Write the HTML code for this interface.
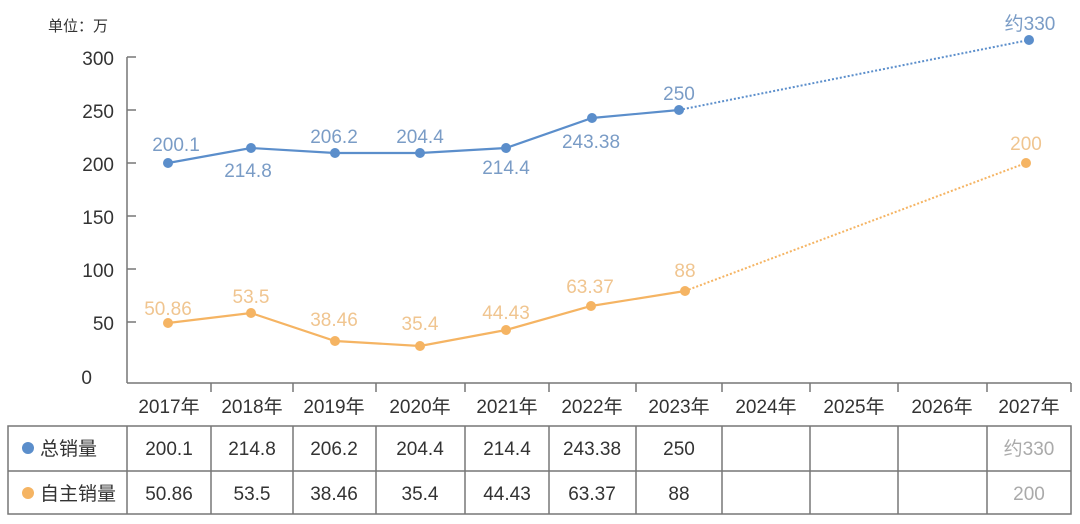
<!DOCTYPE html>
<html><head><meta charset="utf-8"><style>
html,body{margin:0;padding:0;background:#fff;}
svg{display:block;}
text{font-family:"Liberation Sans","Noto Sans CJK SC",sans-serif;}
</style></head><body>
<svg width="1080" height="524" viewBox="0 0 1080 524" xmlns="http://www.w3.org/2000/svg">
<rect width="1080" height="524" fill="#fff"/>
<text x="48" y="31" font-size="15" fill="#333">单位：万</text>
<!-- y axis -->
<g stroke="#777" stroke-width="1.5" fill="none">
<line x1="127" y1="57" x2="127" y2="383"/>
<line x1="127" y1="57" x2="136" y2="57"/>
<line x1="127" y1="110" x2="136" y2="110"/>
<line x1="127" y1="163" x2="136" y2="163"/>
<line x1="127" y1="216" x2="136" y2="216"/>
<line x1="127" y1="269" x2="136" y2="269"/>
<line x1="127" y1="322" x2="136" y2="322"/>
<line x1="127" y1="383" x2="1071" y2="383"/>
<line x1="211" y1="383" x2="211" y2="392"/>
<line x1="293" y1="383" x2="293" y2="392"/>
<line x1="376" y1="383" x2="376" y2="392"/>
<line x1="465" y1="383" x2="465" y2="392"/>
<line x1="549" y1="383" x2="549" y2="392"/>
<line x1="636" y1="383" x2="636" y2="392"/>
<line x1="722" y1="383" x2="722" y2="392"/>
<line x1="810" y1="383" x2="810" y2="392"/>
<line x1="898" y1="383" x2="898" y2="392"/>
<line x1="987" y1="383" x2="987" y2="392"/>
<line x1="1071" y1="383" x2="1071" y2="392"/>
</g>
<g font-size="19" fill="#333" text-anchor="end">
<text x="114" y="65">300</text>
<text x="114" y="118">250</text>
<text x="114" y="171">200</text>
<text x="114" y="224">150</text>
<text x="114" y="277">100</text>
<text x="114" y="330">50</text>
<text x="92" y="384">0</text>
</g>
<g font-size="19" fill="#333" text-anchor="middle">
<text x="169" y="413">2017年</text>
<text x="252" y="413">2018年</text>
<text x="334" y="413">2019年</text>
<text x="420" y="413">2020年</text>
<text x="507" y="413">2021年</text>
<text x="592" y="413">2022年</text>
<text x="679" y="413">2023年</text>
<text x="766" y="413">2024年</text>
<text x="854" y="413">2025年</text>
<text x="942" y="413">2026年</text>
<text x="1029" y="413">2027年</text>
</g>
<!-- blue series -->
<polyline points="168,163 251,148 335,153 420,153 506,148 592,118 679,110" fill="none" stroke="#5b8ecb" stroke-width="2.2"/>
<line x1="679" y1="110" x2="1029" y2="40" stroke="#5b8ecb" stroke-width="2" stroke-dasharray="2,2"/>
<g fill="#5b8ecb">
<circle cx="168" cy="163" r="5"/><circle cx="251" cy="148" r="5"/><circle cx="335" cy="153" r="5"/><circle cx="420" cy="153" r="5"/><circle cx="506" cy="148" r="5"/><circle cx="592" cy="118" r="5"/><circle cx="679" cy="110" r="5"/><circle cx="1029" cy="40" r="5"/>
</g>
<g font-size="19" fill="#7a9cc6" text-anchor="middle">
<text x="176" y="151">200.1</text>
<text x="248" y="177">214.8</text>
<text x="334" y="143">206.2</text>
<text x="420" y="143">204.4</text>
<text x="506" y="174">214.4</text>
<text x="591" y="148">243.38</text>
<text x="679" y="100">250</text>
<text x="1030" y="30">约330</text>
</g>
<!-- orange series -->
<polyline points="168,323 251,313 335,341 420,346 506,330 591,306 685,291" fill="none" stroke="#f5b463" stroke-width="2.2"/>
<line x1="685" y1="291" x2="1026" y2="163" stroke="#f5b463" stroke-width="2" stroke-dasharray="2,2"/>
<g fill="#f5b463">
<circle cx="168" cy="323" r="5"/><circle cx="251" cy="313" r="5"/><circle cx="335" cy="341" r="5"/><circle cx="420" cy="346" r="5"/><circle cx="506" cy="330" r="5"/><circle cx="591" cy="306" r="5"/><circle cx="685" cy="291" r="5"/><circle cx="1026" cy="163" r="5"/>
</g>
<g font-size="19" fill="#f0c590" text-anchor="middle">
<text x="168" y="315">50.86</text>
<text x="251" y="303">53.5</text>
<text x="334" y="326">38.46</text>
<text x="420" y="330">35.4</text>
<text x="506" y="319">44.43</text>
<text x="590" y="293">63.37</text>
<text x="685" y="277">88</text>
<text x="1026" y="150">200</text>
</g>
<!-- table -->
<g stroke="#777" stroke-width="1.5" fill="none">
<rect x="8" y="426" width="1063" height="88"/>
<line x1="8" y1="471" x2="1071" y2="471"/>
<line x1="127" y1="426" x2="127" y2="514"/>
<line x1="211" y1="426" x2="211" y2="514"/>
<line x1="293" y1="426" x2="293" y2="514"/>
<line x1="376" y1="426" x2="376" y2="514"/>
<line x1="465" y1="426" x2="465" y2="514"/>
<line x1="549" y1="426" x2="549" y2="514"/>
<line x1="636" y1="426" x2="636" y2="514"/>
<line x1="722" y1="426" x2="722" y2="514"/>
<line x1="810" y1="426" x2="810" y2="514"/>
<line x1="898" y1="426" x2="898" y2="514"/>
<line x1="987" y1="426" x2="987" y2="514"/>
</g>
<circle cx="28" cy="448" r="6" fill="#5b8ecb"/>
<circle cx="28" cy="493" r="6" fill="#f5b463"/>
<g font-size="19" fill="#333">
<text x="40" y="455">总销量</text>
<text x="40" y="500">自主销量</text>
</g>
<g font-size="19" fill="#333" text-anchor="middle">
<text x="169" y="455">200.1</text><text x="252" y="455">214.8</text><text x="334" y="455">206.2</text><text x="420" y="455">204.4</text><text x="507" y="455">214.4</text><text x="592" y="455">243.38</text><text x="679" y="455">250</text>
<text x="169" y="500">50.86</text><text x="252" y="500">53.5</text><text x="334" y="500">38.46</text><text x="420" y="500">35.4</text><text x="507" y="500">44.43</text><text x="592" y="500">63.37</text><text x="679" y="500">88</text>
<text x="1029" y="455" fill="#aaa">约330</text><text x="1029" y="500" fill="#aaa">200</text>
</g>
</svg>
</body></html>
